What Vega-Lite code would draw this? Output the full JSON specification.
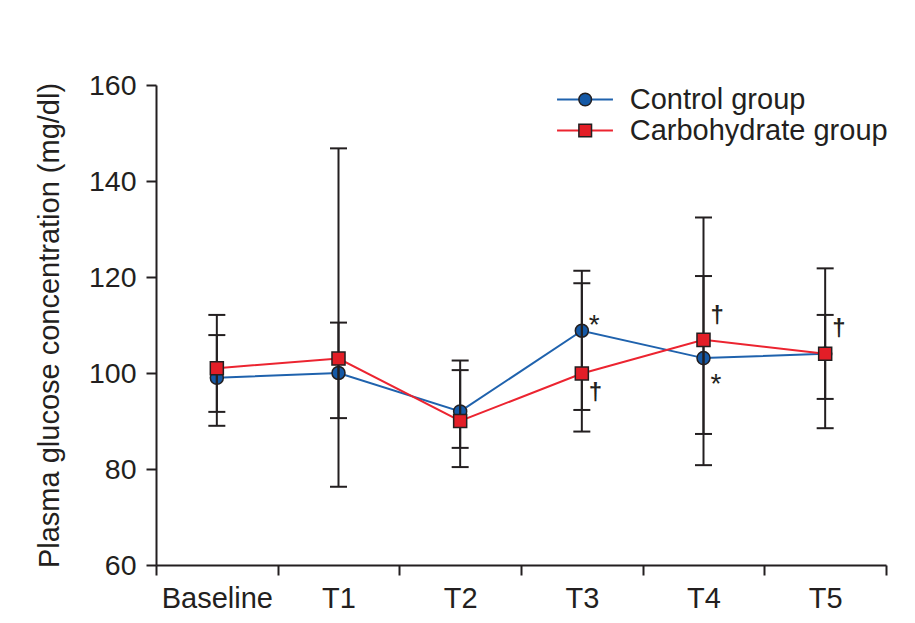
{
  "$schema": "https://vega.github.io/schema/vega-lite/v6.json",
  "autosize": "none",
  "width": 730,
  "height": 480,
  "padding": {"left": 156, "top": 85, "right": 29, "bottom": 58},
  "background": "white",
  "config": {
    "view": {"stroke": null},
    "font": "Liberation Sans",
    "axis": {
      "domainColor": "#231f20", "domainWidth": 2, "tickColor": "#231f20", "tickWidth": 2,
      "tickSize": 10, "labelColor": "#231f20", "titleColor": "#231f20", "grid": false,
      "labelFont": "Liberation Sans", "titleFont": "Liberation Sans", "titleFontWeight": "normal"
    },
    "legend": {"padding": 0, "labelFont": "Liberation Sans", "labelColor": "#231f20", "labelFontSize": 29, "labelLimit": 0, "title": null, "rowPadding": 1}
  },
  "datasets": {
    "means": [
      {"time": "Baseline", "group": "Control group", "value": 99},
      {"time": "T1", "group": "Control group", "value": 100},
      {"time": "T2", "group": "Control group", "value": 92},
      {"time": "T3", "group": "Control group", "value": 108.8},
      {"time": "T4", "group": "Control group", "value": 103.1},
      {"time": "T5", "group": "Control group", "value": 104},
      {"time": "Baseline", "group": "Carbohydrate group", "value": 101},
      {"time": "T1", "group": "Carbohydrate group", "value": 103},
      {"time": "T2", "group": "Carbohydrate group", "value": 90},
      {"time": "T3", "group": "Carbohydrate group", "value": 99.9},
      {"time": "T4", "group": "Carbohydrate group", "value": 106.9},
      {"time": "T5", "group": "Carbohydrate group", "value": 104}
    ],
    "errs": [
      {"time": "Baseline", "group": "Control group", "lo": 91.9, "hi": 107.9},
      {"time": "T1", "group": "Control group", "lo": 90.6, "hi": 110.5},
      {"time": "T2", "group": "Control group", "lo": 84.4, "hi": 100.6},
      {"time": "T3", "group": "Control group", "lo": 92.3, "hi": 121.3},
      {"time": "T4", "group": "Control group", "lo": 87.3, "hi": 120.2},
      {"time": "T5", "group": "Control group", "lo": 94.6, "hi": 112.1},
      {"time": "Baseline", "group": "Carbohydrate group", "lo": 89.0, "hi": 112.1},
      {"time": "T1", "group": "Carbohydrate group", "lo": 76.3, "hi": 146.8},
      {"time": "T2", "group": "Carbohydrate group", "lo": 80.4, "hi": 102.6},
      {"time": "T3", "group": "Carbohydrate group", "lo": 87.8, "hi": 118.7},
      {"time": "T4", "group": "Carbohydrate group", "lo": 80.8, "hi": 132.4},
      {"time": "T5", "group": "Carbohydrate group", "lo": 88.5, "hi": 121.8}
    ],
    "marks": [
      {"time": "T3", "y": 108.1, "label": "*"},
      {"time": "T4", "y": 95.9, "label": "*"},
      {"time": "T3", "y": 94.4, "label": "†"},
      {"time": "T4", "y": 110.4, "label": "†"},
      {"time": "T5", "y": 107.7, "label": "†"}
    ]
  },
  "encoding": {
    "x": {
      "field": "time", "type": "nominal", "sort": ["Baseline", "T1", "T2", "T3", "T4", "T5"],
      "scale": {"type": "band", "paddingInner": 0, "paddingOuter": 0},
      "axis": {"title": null, "labelAngle": 0, "labelFontSize": 29, "labelPadding": 9, "tickBand": "extent"}
    }
  },
  "layer": [
    {
      "data": {"name": "means"},
      "mark": {"type": "line", "strokeWidth": 2},
      "encoding": {
        "y": {"field": "value", "type": "quantitative",
          "scale": {"domain": [60, 160], "nice": false, "zero": false},
          "axis": {"values": [60, 80, 100, 120, 140, 160], "title": "Plasma glucose concentration (mg/dl)",
            "titleFontSize": 29, "titlePadding": 24, "labelFontSize": 28.5, "labelPadding": 10}},
        "stroke": {"field": "group", "type": "nominal", "sort": ["Control group", "Carbohydrate group"],
          "scale": {"range": ["#1f62ad", "#ec2430"]},
          "legend": {"orient": "none", "legendX": 414.5, "legendY": 0, "symbolType": "M-5,0H5", "symbolSize": 125,
            "symbolStrokeWidth": 2, "labelOpacity": 0, "labelOffset": 30}},
        "detail": {"field": "group"}
      }
    },
    {
      "data": {"name": "means"},
      "transform": [{"filter": "datum.group === 'Control group'"}],
      "mark": {"type": "point", "filled": true, "size": 170, "stroke": "#231f20", "strokeWidth": 1.5, "opacity": 1},
      "encoding": {
        "y": {"field": "value", "type": "quantitative"},
        "fill": {"field": "group", "type": "nominal",
          "scale": {"domain": ["Control group", "Carbohydrate group"], "range": ["#1559a6", "#e31e27"]},
          "legend": {"orient": "none", "legendX": 414.7, "legendY": 0, "symbolSize": 160,
            "symbolOpacity": 1, "labelOffset": 30,
            "encode": {"symbols": {"update": {"stroke": {"value": "#231f20"}, "strokeWidth": {"value": 1.5}}}}}},
        "shape": {"field": "group", "type": "nominal",
          "scale": {"domain": ["Control group", "Carbohydrate group"], "range": ["circle", "square"]},
          "legend": {"orient": "none", "legendX": 414.7, "legendY": 0, "symbolSize": 160,
            "symbolOpacity": 1, "labelOffset": 30,
            "encode": {"symbols": {"update": {"stroke": {"value": "#231f20"}, "strokeWidth": {"value": 1.5}}}}}}
      }
    },
    {
      "data": {"name": "errs"},
      "mark": {"type": "rule", "color": "#231f20", "strokeWidth": 2},
      "encoding": {"y": {"field": "lo", "type": "quantitative"}, "y2": {"field": "hi"}}
    },
    {
      "data": {"name": "errs"},
      "mark": {"type": "tick", "color": "#231f20", "thickness": 2, "size": 17, "opacity": 1},
      "encoding": {"y": {"field": "lo", "type": "quantitative"}}
    },
    {
      "data": {"name": "errs"},
      "mark": {"type": "tick", "color": "#231f20", "thickness": 2, "size": 17, "opacity": 1},
      "encoding": {"y": {"field": "hi", "type": "quantitative"}}
    },
    {
      "data": {"name": "means"},
      "transform": [{"filter": "datum.group === 'Carbohydrate group'"}],
      "mark": {"type": "point", "filled": true, "size": 170, "stroke": "#231f20", "strokeWidth": 1.5, "opacity": 1},
      "encoding": {
        "y": {"field": "value", "type": "quantitative"},
        "fill": {"field": "group", "type": "nominal"},
        "shape": {"field": "group", "type": "nominal"}
      }
    },
    {
      "data": {"name": "marks"},
      "transform": [{"filter": "datum.label === '*'"}],
      "mark": {"type": "text", "align": "left", "baseline": "alphabetic", "dx": 7, "fontSize": 28, "color": "#231f20"},
      "encoding": {"y": {"field": "y", "type": "quantitative"}, "text": {"field": "label"}}
    },
    {
      "data": {"name": "marks"},
      "transform": [{"filter": "datum.label === '†'"}],
      "mark": {"type": "text", "align": "left", "baseline": "alphabetic", "dx": 7, "fontSize": 24, "fontWeight": "bold", "color": "#231f20"},
      "encoding": {"y": {"field": "y", "type": "quantitative"}, "text": {"field": "label"}}
    }
  ]
}
